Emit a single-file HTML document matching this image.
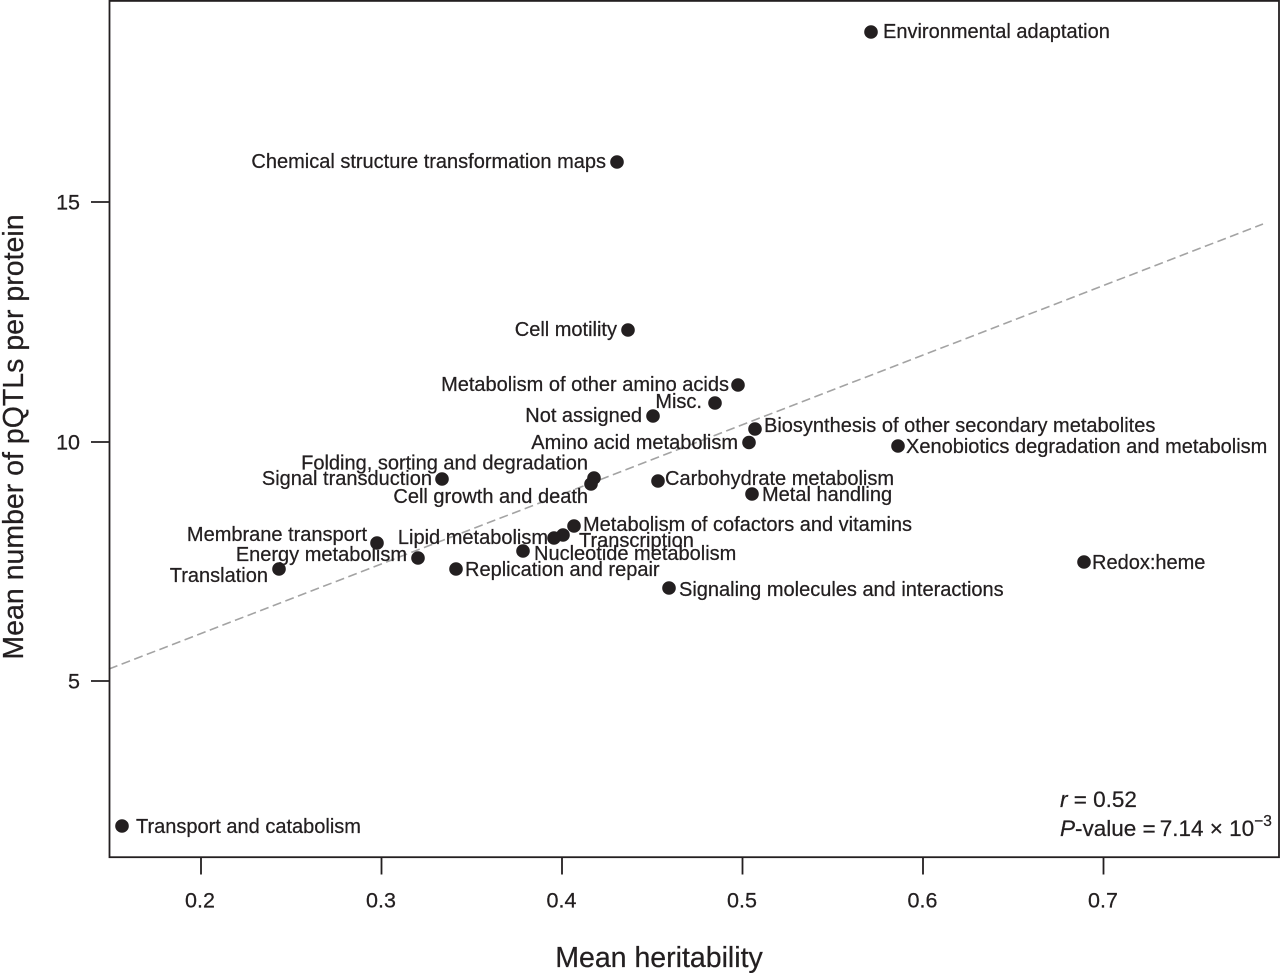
<!DOCTYPE html>
<html>
<head>
<meta charset="utf-8">
<style>
  html, body { margin:0; padding:0; background:#fff; }
  svg { display:block; }
  text { font-family: "Liberation Sans", Arial, sans-serif; fill:#231f20; stroke:#231f20; stroke-width:0.25px; }
  .lab { font-size:20px; }
  .tick { font-size:21.5px; }
  .ann { font-size:22.5px; }
  .title { font-size:28.5px; }
</style>
</head>
<body>
<svg width="1280" height="973" viewBox="0 0 1280 973" xmlns="http://www.w3.org/2000/svg">
  <rect x="0" y="0" width="1280" height="973" fill="#fff"/>

  <!-- regression line -->
  <line x1="109" y1="669" x2="1263" y2="224" stroke="#a3a3a3" stroke-width="1.6" stroke-dasharray="9,4.5"/>

  <!-- box -->
  <rect x="109.5" y="0.9" width="1169.5" height="856.3" fill="none" stroke="#231f20" stroke-width="1.8"/>

  <!-- y ticks -->
  <g stroke="#231f20" stroke-width="1.8">
    <line x1="91" y1="202" x2="109.5" y2="202"/>
    <line x1="91" y1="442" x2="109.5" y2="442"/>
    <line x1="91" y1="681" x2="109.5" y2="681"/>
  </g>
  <g text-anchor="end">
    <text class="tick" x="80" y="209.7">15</text>
    <text class="tick" x="80" y="449.7">10</text>
    <text class="tick" x="80" y="688.7">5</text>
  </g>

  <!-- x ticks -->
  <g stroke="#231f20" stroke-width="1.8">
    <line x1="201" y1="857" x2="201" y2="874.5"/>
    <line x1="381.5" y1="857" x2="381.5" y2="874.5"/>
    <line x1="562" y1="857" x2="562" y2="874.5"/>
    <line x1="742.5" y1="857" x2="742.5" y2="874.5"/>
    <line x1="923" y1="857" x2="923" y2="874.5"/>
    <line x1="1103.5" y1="857" x2="1103.5" y2="874.5"/>
  </g>
  <g text-anchor="middle">
    <text class="tick" x="200" y="907.5">0.2</text>
    <text class="tick" x="381" y="907.5">0.3</text>
    <text class="tick" x="561.5" y="907.5">0.4</text>
    <text class="tick" x="742" y="907.5">0.5</text>
    <text class="tick" x="922.5" y="907.5">0.6</text>
    <text class="tick" x="1103" y="907.5">0.7</text>
  </g>

  <!-- axis titles -->
  <text class="title" x="659" y="967" text-anchor="middle">Mean heritability</text>
  <text class="title" transform="translate(23,437) rotate(-90)" text-anchor="middle">Mean number of pQTLs per protein</text>

  <!-- points -->
  <g fill="#231f20">
    <circle cx="871" cy="32" r="6.8"/>
    <circle cx="617" cy="162" r="6.8"/>
    <circle cx="628" cy="330" r="6.8"/>
    <circle cx="738" cy="385" r="6.8"/>
    <circle cx="715" cy="403" r="6.8"/>
    <circle cx="653" cy="416" r="6.8"/>
    <circle cx="755" cy="429" r="6.8"/>
    <circle cx="749" cy="442.5" r="6.8"/>
    <circle cx="898" cy="446" r="6.8"/>
    <circle cx="594" cy="478" r="6.8"/>
    <circle cx="591" cy="484" r="6.8"/>
    <circle cx="442" cy="479" r="6.8"/>
    <circle cx="658" cy="481" r="6.8"/>
    <circle cx="752" cy="494" r="6.8"/>
    <circle cx="574" cy="526" r="6.8"/>
    <circle cx="563" cy="535" r="6.8"/>
    <circle cx="554" cy="538" r="6.8"/>
    <circle cx="377" cy="543" r="6.8"/>
    <circle cx="523" cy="551" r="6.8"/>
    <circle cx="418" cy="558" r="6.8"/>
    <circle cx="456" cy="569" r="6.8"/>
    <circle cx="279" cy="569" r="6.8"/>
    <circle cx="669" cy="588" r="6.8"/>
    <circle cx="1084" cy="562" r="6.8"/>
    <circle cx="122" cy="826" r="6.8"/>
  </g>

  <!-- labels right of point -->
  <g text-anchor="start">
    <text class="lab" x="883" y="38">Environmental adaptation</text>
    <text class="lab" x="764" y="432">Biosynthesis of other secondary metabolites</text>
    <text class="lab" x="906" y="453">Xenobiotics degradation and metabolism</text>
    <text class="lab" x="665" y="485">Carbohydrate metabolism</text>
    <text class="lab" x="762" y="501">Metal handling</text>
    <text class="lab" x="583" y="531">Metabolism of cofactors and vitamins</text>
    <text class="lab" x="579" y="547">Transcription</text>
    <text class="lab" x="534" y="560">Nucleotide metabolism</text>
    <text class="lab" x="465" y="576">Replication and repair</text>
    <text class="lab" x="679" y="596">Signaling molecules and interactions</text>
    <text class="lab" x="1092" y="569">Redox:heme</text>
    <text class="lab" x="136" y="833">Transport and catabolism</text>
  </g>

  <!-- labels left of point -->
  <g text-anchor="end">
    <text class="lab" x="606" y="168">Chemical structure transformation maps</text>
    <text class="lab" x="617" y="336">Cell motility</text>
    <text class="lab" x="729" y="391">Metabolism of other amino acids</text>
    <text class="lab" x="702" y="408">Misc.</text>
    <text class="lab" x="642" y="422">Not assigned</text>
    <text class="lab" x="738" y="449">Amino acid metabolism</text>
    <text class="lab" x="588" y="469.5">Folding, sorting and degradation</text>
    <text class="lab" x="432" y="485">Signal transduction</text>
    <text class="lab" x="588" y="503">Cell growth and death</text>
    <text class="lab" x="367" y="541">Membrane transport</text>
    <text class="lab" x="407" y="561">Energy metabolism</text>
    <text class="lab" x="268" y="582">Translation</text>
    <text class="lab" x="548" y="544">Lipid metabolism</text>
  </g>

  <!-- stats annotation -->
  <text class="ann" x="1060" y="807"><tspan font-style="italic">r</tspan> = 0.52</text>
  <text class="ann" x="1060" y="836"><tspan font-style="italic">P</tspan>-value =<tspan dx="4">7.14 × 10</tspan><tspan font-size="15.5" dy="-10">−3</tspan></text>
</svg>
</body>
</html>
